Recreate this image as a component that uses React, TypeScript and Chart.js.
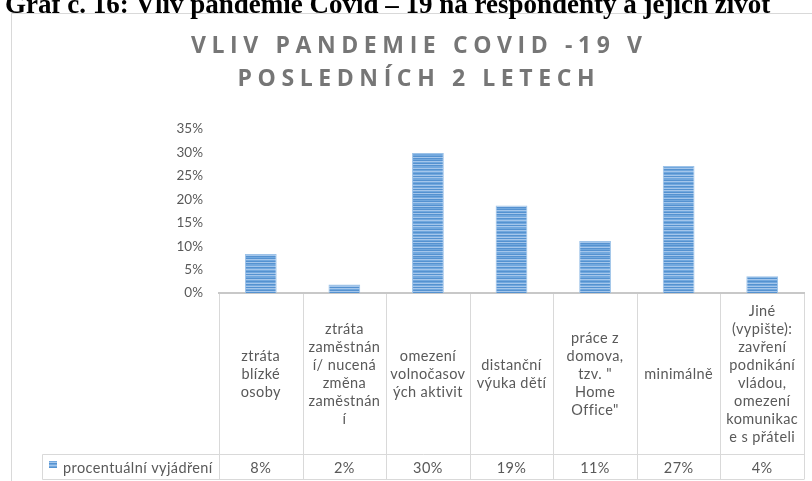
import { useEffect, useRef } from "react";
import { Chart, registerables } from "chart.js";

Chart.register(...registerables);

// ---------- data ----------
const pageHeading = "Graf č. 16: Vliv pandemie Covid – 19 na respondenty a jejich život";
const chartTitle = ["VLIV PANDEMIE COVID -19 V", "POSLEDNÍCH 2 LETECH"];
const seriesName = "procentuální vyjádření";
const categories: string[][] = [
  ["ztráta", "blízké", "osoby"],
  ["ztráta", "zaměstnán", "í/ nucená", "změna", "zaměstnán", "í"],
  ["omezení", "volnočasov", "ých aktivit"],
  ["distanční", "výuka dětí"],
  ["práce z", "domova,", "tzv. \"", "Home", "Office\""],
  ["minimálně"],
  ["Jiné", "(vypište):", "zavření", "podnikání", "vládou,", "omezení", "komunikac", "e s přáteli"],
];
const values = [0.083, 0.018, 0.299, 0.187, 0.111, 0.271, 0.036];
const yMin = 0;
const yMax = 0.35;
const yStep = 0.05;

// ---------- style ----------
const FONT = "Lato, 'Open Sans', sans-serif";
const TEXT = "#595959";
const GRID = "#d9d9d9";
const stripeShades = "0120102110201021020112012101202110210120120210201";
const shadeColors = ["#5592d0", "#72a8de", "#a4c6eb"];

const pct = (v: number) => Math.round(v * 100) + "%";

function makePattern(ctx: CanvasRenderingContext2D) {
  const c = document.createElement("canvas");
  c.width = 4;
  c.height = stripeShades.length;
  const g = c.getContext("2d")!;
  for (let i = 0; i < stripeShades.length; i++) {
    g.fillStyle = shadeColors[Number(stripeShades[i])];
    g.fillRect(0, i, 4, 1);
  }
  return ctx.createPattern(c, "repeat")!;
}

function spaced(ctx: CanvasRenderingContext2D, text: string, cx: number, y: number, sp: number) {
  (ctx as any).letterSpacing = sp + "px";
  const w = ctx.measureText(text).width - sp;
  ctx.textAlign = "left";
  ctx.fillText(text, cx - w / 2, y);
  (ctx as any).letterSpacing = "0px";
}

const decorPlugin = {
  id: "decor",
  beforeDraw(chart: any) {
    const ctx = chart.ctx as CanvasRenderingContext2D;
    ctx.save();
    ctx.fillStyle = "#fff";
    ctx.fillRect(0, 0, chart.width, chart.height);
    // chart frame
    ctx.strokeStyle = GRID;
    ctx.lineWidth = 1;
    ctx.strokeRect(11.5, 13.5, chart.width + 10, chart.height + 10);
    // page heading
    ctx.fillStyle = "#000";
    ctx.font = "bold 27px 'Liberation Serif', 'Times New Roman', serif";
    ctx.textBaseline = "alphabetic";
    ctx.textAlign = "left";
    ctx.fillText(pageHeading, 5, 12.5);
    // chart title
    ctx.fillStyle = "#767676";
    ctx.font = "bold 23px 'Open Sans', sans-serif";
    spaced(ctx, chartTitle[0], 416.5, 53, 5.6);
    spaced(ctx, chartTitle[1], 416, 86, 5.6);
    ctx.restore();
  },
  afterDraw(chart: any) {
    const ctx = chart.ctx as CanvasRenderingContext2D;
    const xs = chart.scales.x;
    const { left, right, bottom } = chart.chartArea;
    const n = categories.length;
    const colW = (right - left) / n;
    const rowTop = 454.5;
    const tableBottom = 479.5;
    const legendLeft = 42.5;
    ctx.save();
    ctx.strokeStyle = GRID;
    ctx.lineWidth = 1;
    ctx.beginPath();
    for (let i = 0; i <= n; i++) {
      const x = Math.round(xs.getPixelForValue(0) - colW / 2 + i * colW) + 0.5;
      ctx.moveTo(x, bottom + 1);
      ctx.lineTo(x, tableBottom);
    }
    ctx.moveTo(legendLeft, rowTop);
    ctx.lineTo(right, rowTop);
    ctx.moveTo(legendLeft, tableBottom);
    ctx.lineTo(right, tableBottom);
    ctx.moveTo(legendLeft, rowTop);
    ctx.lineTo(legendLeft, tableBottom);
    ctx.stroke();

    ctx.fillStyle = TEXT;
    ctx.font = "14.5px " + FONT;
    (ctx as any).letterSpacing = "0.4px";
    ctx.textAlign = "center";
    ctx.textBaseline = "middle";
    const lh = 18;
    const cy = (bottom + rowTop) / 2 + 1;
    categories.forEach((lines, i) => {
      const cx = xs.getPixelForValue(i);
      const y0 = cy - ((lines.length - 1) * lh) / 2;
      lines.forEach((ln, j) => ctx.fillText(ln, cx, y0 + j * lh));
      ctx.fillText(pct(values[i]), cx, (rowTop + tableBottom) / 2 + 1);
    });
    // legend cell
    ctx.fillStyle = chart.data.datasets[0].backgroundColor;
    ctx.fillRect(49, 461, 8, 7);
    ctx.fillStyle = TEXT;
    ctx.textAlign = "left";
    ctx.fillText(seriesName, 63, (rowTop + tableBottom) / 2 + 1);
    (ctx as any).letterSpacing = "0px";
    ctx.restore();
  },
};

export default function App() {
  const ref = useRef<HTMLCanvasElement>(null);
  useEffect(() => {
    document.body.style.margin = "0";
    const canvas = ref.current!;
    const ctx = canvas.getContext("2d")!;
    const pattern = makePattern(ctx);
    const chart = new Chart(canvas, {
      type: "bar",
      data: {
        labels: categories,
        datasets: [
          {
            label: seriesName,
            data: values,
            backgroundColor: pattern as any,
            borderColor: "#9cc2e8",
            borderWidth: 1,
            barPercentage: 0.38,
            categoryPercentage: 1,
          },
        ],
      },
      options: {
        animation: false,
        responsive: false,
        devicePixelRatio: 1,
        layout: { padding: { top: 129, right: 8, left: 0, bottom: 0 } },
        plugins: { legend: { display: false }, tooltip: { enabled: false }, title: { display: false } },
        scales: {
          x: {
            type: "category",
            grid: { display: false, drawTicks: false },
            ticks: { display: false },
            border: { display: true, color: "#c8c8c8", width: 2 },
            afterFit: (s: any) => {
              s.height = 188;
            },
          },
          y: {
            min: yMin,
            max: yMax,
            grid: { display: false, drawTicks: false },
            border: { display: false },
            ticks: {
              stepSize: yStep,
              padding: 16,
              color: TEXT,
              font: { family: FONT, size: 13.5 },
              callback: (v: any) => pct(Number(v)),
            },
            afterFit: (s: any) => {
              s.width = 219;
            },
          },
        },
      },
      plugins: [decorPlugin],
    });
    return () => chart.destroy();
  }, []);
  return (
    <div style={{ position: "fixed", left: 0, top: 0, width: 812, height: 481 }}>
      <canvas ref={ref} width={812} height={481} />
    </div>
  );
}
